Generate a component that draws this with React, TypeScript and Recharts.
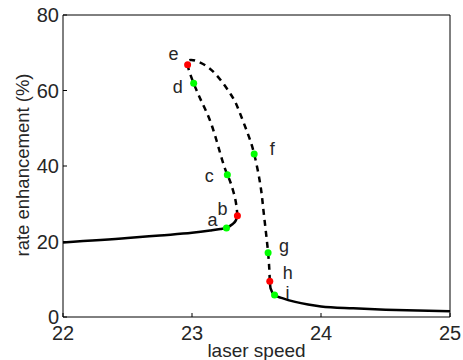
import { ComposedChart, Line, Scatter, XAxis, YAxis, Cell, LabelList, Label } from 'recharts';

// lower stable branch (solid)
const lowerX = [22, 22.5, 22.75, 23, 23.14, 23.22, 23.267, 23.31, 23.34, 23.352];
const lowerY = [19.75, 20.9, 21.6, 22.3, 22.9, 23.3, 23.6, 24.5, 25.6, 26.8];

// unstable branch (dashed), from b round the turn at e down to h
const midX = [23.352, 23.336, 23.3, 23.274, 23.233, 23.155, 23.078, 23.013, 22.966, 22.99, 23.05, 23.17, 23.3, 23.36, 23.43, 23.482, 23.53, 23.556, 23.59, 23.603];
const midY = [26.8, 31.1, 35.5, 37.7, 41.7, 50.6, 56.8, 61.9, 66.8, 68.1, 67.6, 64.8, 59.0, 55.0, 48.8, 43.2, 35.0, 27.6, 17.0, 9.5];

// upper stable branch (solid)
const rightX = [23.603, 23.609, 23.64, 23.7, 23.8, 23.9, 24, 24.25, 24.5, 24.75, 25];
const rightY = [9.5, 7.6, 5.8, 5.0, 4.0, 3.3, 2.8, 2.3, 1.95, 1.7, 1.5];

const markLabels = ['a', 'b', 'c', 'd', 'e', 'f', 'g', 'h', 'i'];
const markX = [23.267, 23.352, 23.274, 23.013, 22.966, 23.482, 23.59, 23.603, 23.64];
const markY = [23.6, 26.8, 37.7, 61.9, 66.8, 43.2, 17.0, 9.5, 5.8];
const markKind = ['g', 'r', 'g', 'g', 'r', 'g', 'g', 'r', 'g'];

const xTicks = [22, 23, 24, 25];
const yTicks = [0, 20, 40, 60, 80];

const kindColor: Record<string, string> = { r: '#ff0000', g: '#00ff00' };
// label offsets from the dot, in px
const labelOffset: Record<string, [number, number]> = {
  a: [-14, -8], b: [-15, -7], c: [-18, 1], d: [-16, 4], e: [-14, -11],
  f: [18, -5], g: [16, -7], h: [18, -8], i: [13, -2],
};

const toRows = (xs: number[], ys: number[]) => xs.map((x, i) => ({ x, y: ys[i] }));
const lower = toRows(lowerX, lowerY);
const mid = toRows(midX, midY);
const right = toRows(rightX, rightY);
const marks = markX.map((x, i) => ({ x, y: markY[i], name: markLabels[i], kind: markKind[i] }));

const font = '"Liberation Sans", Arial, sans-serif';
const textColor = '#262626';
const tickStyle = { fontSize: 20, fill: textColor, fontFamily: font };

export default function App() {
  return (
    <div style={{ position: 'absolute', left: 0, top: 0, background: '#fff' }}>
      <ComposedChart width={463} height={360} margin={{ top: 14, right: 12, bottom: 0, left: 0 }}>
        <XAxis
          xAxisId="b" dataKey="x" type="number" domain={[22, 25]} ticks={xTicks} allowDataOverflow
          height={43} tickSize={-4} tickMargin={13} tick={tickStyle}
          stroke="#000" tickLine={{ stroke: '#000' }}
        >
          <Label
            content={(p: any) => (
              <text x={p.viewBox.x + p.viewBox.width / 2} y={p.viewBox.y + 40} textAnchor="middle"
                fontSize={19} fill={textColor} fontFamily={font}>laser speed</text>
            )}
          />
        </XAxis>
        <XAxis xAxisId="t" orientation="top" dataKey="x" type="number" domain={[22, 25]} ticks={xTicks}
          allowDataOverflow height={1} tickSize={-4} tick={false} stroke="#000" tickLine={{ stroke: '#000' }} />
        <YAxis
          yAxisId="l" type="number" domain={[0, 80]} ticks={yTicks} width={63}
          tickSize={-4} tickMargin={8} tick={tickStyle} stroke="#000" tickLine={{ stroke: '#000' }}
        >
          <Label
            content={(p: any) => {
              const cx = 22;
              const cy = p.viewBox.y + p.viewBox.height / 2 - 1;
              return (
                <text x={cx} y={cy} transform={`rotate(-90 ${cx} ${cy})`} textAnchor="middle"
                  dominantBaseline="central" fontSize={18.5} fill={textColor} fontFamily={font}>
                  rate enhancement (%)
                </text>
              );
            }}
          />
        </YAxis>
        <YAxis yAxisId="r" orientation="right" type="number" domain={[0, 80]} ticks={yTicks} width={1}
          tickSize={-4} tick={false} stroke="#000" tickLine={{ stroke: '#000' }} />

        <Line xAxisId="b" yAxisId="l" data={lower} dataKey="y" type="monotone" stroke="#000"
          strokeWidth={2.5} dot={false} isAnimationActive={false} />
        <Line xAxisId="b" yAxisId="l" data={mid} dataKey="y" type="natural" stroke="#000"
          strokeWidth={2.5} strokeDasharray="6 5" dot={false} isAnimationActive={false} />
        <Line xAxisId="b" yAxisId="l" data={right} dataKey="y" type="monotone" stroke="#000"
          strokeWidth={2.5} dot={false} isAnimationActive={false} />

        <Scatter xAxisId="b" yAxisId="l" data={marks} dataKey="y" isAnimationActive={false}
          shape={(p: any) => <circle cx={p.cx} cy={p.cy} r={3.5} fill={p.fill} />}>
          {marks.map((m) => (
            <Cell key={m.name} fill={kindColor[m.kind]} />
          ))}
          <LabelList
            dataKey="name"
            content={(p: any) => {
              const [dx, dy] = labelOffset[p.value] || [0, 0];
              const cx = p.x + p.width / 2;
              const cy = p.y + p.height / 2;
              return (
                <text x={cx + dx} y={cy + dy} textAnchor="middle" dominantBaseline="central"
                  fontSize={18} fill={textColor} fontFamily={font}>{p.value}</text>
              );
            }}
          />
        </Scatter>
      </ComposedChart>
    </div>
  );
}
